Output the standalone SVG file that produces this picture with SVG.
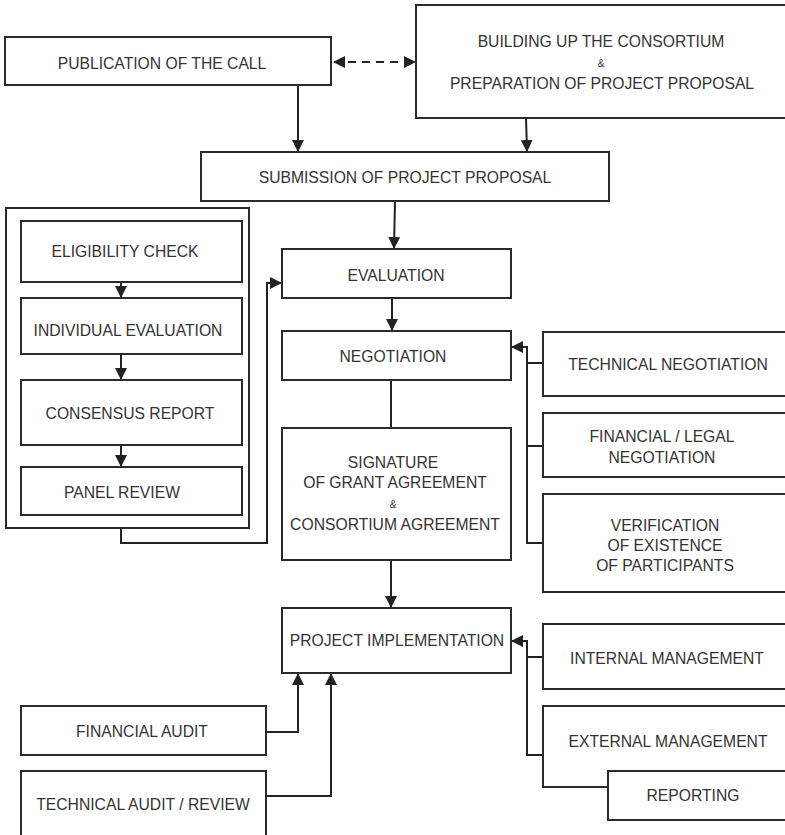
<svg xmlns="http://www.w3.org/2000/svg" width="785" height="835" viewBox="0 0 785 835">
<style>
.box{fill:#fff;stroke:#2b2b2b;stroke-width:2}
.frame{fill:none;stroke:#2b2b2b;stroke-width:2}
.t{font-family:"Liberation Sans",Arial,sans-serif;font-size:15.7px;fill:#333;text-anchor:middle}
.amp{font-family:"Liberation Sans",Arial,sans-serif;font-size:10px;fill:#333;text-anchor:middle}
.ln{fill:none;stroke:#222;stroke-width:2}
.arr{fill:none;stroke:#222;stroke-width:2;marker-end:url(#ah)}
.dash{fill:none;stroke:#222;stroke-width:2;stroke-dasharray:8 6;marker-end:url(#ah);marker-start:url(#ahs)}
</style>
<defs>
<marker id="ah" markerUnits="userSpaceOnUse" markerWidth="12" markerHeight="12" refX="11" refY="6" orient="auto">
<path d="M0,0 L12,6 L0,12 z" fill="#222"/>
</marker>
<marker id="ahs" markerUnits="userSpaceOnUse" markerWidth="12" markerHeight="12" refX="1" refY="6" orient="auto">
<path d="M12,0 L0,6 L12,12 z" fill="#222"/>
</marker>
</defs>
<rect width="785" height="835" fill="#fff"/>

<g id="connectors">
<path class="dash" d="M334,62 H415"/>
<path class="arr" d="M298,85 V151"/>
<path class="arr" d="M526,118 L527,151"/>
<path class="arr" d="M395,201 L394,248"/>
<path class="arr" d="M392,298 V330"/>
<path class="ln" d="M391,380 V428"/>
<path class="arr" d="M391,560 V607"/>
<path class="arr" d="M121,282 V297"/>
<path class="arr" d="M121,354 V379"/>
<path class="arr" d="M121,445 V466"/>
<path class="arr" d="M121,528 V543 H267 V283 H281"/>
<path class="arr" d="M543,543 H527 V347 H512"/>
<path class="ln" d="M527,363 H543"/>
<path class="ln" d="M527,446 H543"/>
<path class="arr" d="M543,755 H527 V641 H512"/>
<path class="ln" d="M527,657 H543"/>
<path class="arr" d="M266,732 H298 V674"/>
<path class="arr" d="M266,796 H331 V674"/>
</g>

<g id="publication">
<rect class="box" x="5" y="37" width="326" height="48"/>
<text class="t" x="162" y="69">PUBLICATION OF THE CALL</text>
</g>
<g id="building">
<rect class="box" x="416" y="5" width="390" height="113"/>
<text class="t" x="601" y="47">BUILDING UP THE CONSORTIUM</text>
<text class="amp" x="601" y="67">&amp;</text>
<text class="t" x="602" y="89">PREPARATION OF PROJECT PROPOSAL</text>
</g>
<g id="submission">
<rect class="box" x="201" y="152" width="408" height="49"/>
<text class="t" x="405" y="183">SUBMISSION OF PROJECT PROPOSAL</text>
</g>
<g id="evaluation-group">
<rect class="frame" x="6" y="208" width="243" height="320"/>
</g>
<g id="eligibility">
<rect class="box" x="21" y="221" width="221" height="61"/>
<text class="t" x="125" y="257">ELIGIBILITY CHECK</text>
</g>
<g id="individual">
<rect class="box" x="21" y="298" width="221" height="56"/>
<text class="t" x="128" y="336">INDIVIDUAL EVALUATION</text>
</g>
<g id="consensus">
<rect class="box" x="21" y="380" width="221" height="65"/>
<text class="t" x="130" y="419">CONSENSUS REPORT</text>
</g>
<g id="panel">
<rect class="box" x="21" y="467" width="221" height="48"/>
<text class="t" x="122" y="498">PANEL REVIEW</text>
</g>
<g id="evaluation">
<rect class="box" x="282" y="249" width="229" height="49"/>
<text class="t" x="396" y="281">EVALUATION</text>
</g>
<g id="negotiation">
<rect class="box" x="282" y="331" width="229" height="49"/>
<text class="t" x="393" y="362">NEGOTIATION</text>
</g>
<g id="signature">
<rect class="box" x="282" y="428" width="229" height="132"/>
<text class="t" x="393" y="468">SIGNATURE</text>
<text class="t" x="395" y="488">OF GRANT AGREEMENT</text>
<text class="amp" x="393" y="508">&amp;</text>
<text class="t" x="395" y="530">CONSORTIUM AGREEMENT</text>
</g>
<g id="technical-negotiation">
<rect class="box" x="543" y="332" width="260" height="64"/>
<text class="t" x="668" y="370">TECHNICAL NEGOTIATION</text>
</g>
<g id="financial-negotiation">
<rect class="box" x="543" y="413" width="260" height="64"/>
<text class="t" x="662" y="442">FINANCIAL / LEGAL</text>
<text class="t" x="662" y="463">NEGOTIATION</text>
</g>
<g id="verification">
<rect class="box" x="543" y="494" width="260" height="98"/>
<text class="t" x="665" y="531">VERIFICATION</text>
<text class="t" x="665" y="551">OF EXISTENCE</text>
<text class="t" x="665" y="571">OF PARTICIPANTS</text>
</g>
<g id="implementation">
<rect class="box" x="282" y="608" width="229" height="65"/>
<text class="t" x="397" y="646">PROJECT IMPLEMENTATION</text>
</g>
<g id="internal">
<rect class="box" x="543" y="624" width="260" height="65"/>
<text class="t" x="667" y="664">INTERNAL MANAGEMENT</text>
</g>
<g id="external">
<rect class="box" x="543" y="706" width="260" height="81"/>
<text class="t" x="668" y="747">EXTERNAL MANAGEMENT</text>
</g>
<g id="reporting">
<rect class="box" x="608" y="771" width="195" height="49"/>
<text class="t" x="693" y="801">REPORTING</text>
</g>
<g id="financial-audit">
<rect class="box" x="21" y="706" width="245" height="49"/>
<text class="t" x="142" y="737">FINANCIAL AUDIT</text>
</g>
<g id="technical-audit">
<rect class="box" x="21" y="771" width="245" height="80"/>
<text class="t" x="143" y="810">TECHNICAL AUDIT / REVIEW</text>
</g>
</svg>
